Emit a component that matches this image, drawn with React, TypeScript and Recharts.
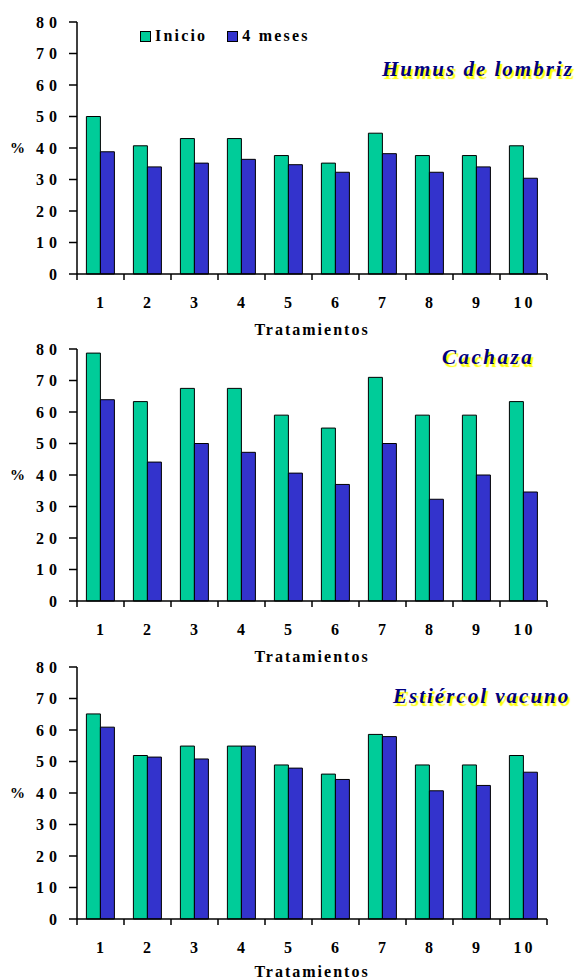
import { BarChart, Bar, XAxis, YAxis, Legend } from 'recharts';

const tratamientos = ['1', '2', '3', '4', '5', '6', '7', '8', '9', '10'];
const yTicks = [0, 10, 20, 30, 40, 50, 60, 70, 80];

// % al inicio y a los 4 meses, por sustrato
const humusInicio = [50, 40.7, 43, 43, 37.6, 35.2, 44.7, 37.6, 37.6, 40.7];
const humus4m = [38.8, 34, 35.2, 36.4, 34.7, 32.3, 38.2, 32.3, 34, 30.4];
const cachazaInicio = [78.7, 63.3, 67.5, 67.5, 59, 54.9, 71, 59, 59, 63.3];
const cachaza4m = [63.9, 44.1, 50, 47.2, 40.6, 37, 50, 32.3, 40, 34.6];
const estiercolInicio = [65.1, 51.9, 54.9, 54.9, 48.9, 46, 58.6, 48.9, 48.9, 51.9];
const estiercol4m = [60.9, 51.4, 50.8, 54.9, 47.9, 44.3, 57.9, 40.7, 42.4, 46.6];

const FONT = "'Liberation Serif', 'DejaVu Serif', 'Noto Serif', serif";
const VERDE = '#00CC99';
const AZUL = '#3333CC';

const toRows = (ini: number[], fin: number[]) =>
  tratamientos.map((t, i) => ({ t, inicio: ini[i], meses: fin[i] }));

// etiqueta de categoría + marcas en los límites de cada banda
function CatTick(props: any) {
  const { x, y, payload, index, visibleTicksCount } = props;
  const half = payload.offset ?? 23.5;
  const last = index === visibleTicksCount - 1;
  return (
    <g>
      <line x1={x - half} x2={x - half} y1={y} y2={y + 6} stroke="#000" strokeWidth={1.5} />
      {last && <line x1={x + half} x2={x + half} y1={y} y2={y + 6} stroke="#000" strokeWidth={1.5} />}
      <text
        x={x + 1}
        y={y + 34}
        textAnchor="middle"
        fontFamily={FONT}
        fontWeight={700}
        fontSize={16}
        letterSpacing={3}
        fill="#000"
      >
        {payload.value}
      </text>
    </g>
  );
}

const renderLegend = ({ payload }: any) => (
  <div style={{ display: 'flex', alignItems: 'center', fontFamily: FONT, fontWeight: 700, fontSize: 16, letterSpacing: 2.2 }}>
    {(payload || []).map((e: any) => (
      <span key={e.value} style={{ display: 'flex', alignItems: 'center', marginRight: 20 }}>
        <span style={{ width: 9, height: 9, background: e.color, border: '1px solid #000', marginRight: 4 }} />
        {e.value}
      </span>
    ))}
  </div>
);

type PanelProps = {
  top: number;
  ini: number[];
  fin: number[];
  titulo: string;
  tituloX: number;
  tituloY: number;
  tituloSp: number;
  labelOffset: number;
  leyenda?: boolean;
};

function Panel({ top, ini, fin, titulo, tituloX, tituloY, tituloSp, labelOffset, leyenda }: PanelProps) {
  return (
    <div style={{ position: 'absolute', left: 0, top, width: 580, height: 342 }}>
      <BarChart
        width={580}
        height={342}
        data={toRows(ini, fin)}
        margin={{ top: 22, right: 33, bottom: 6, left: 0 }}
        barCategoryGap="20%"
        barGap={0}
      >
        <XAxis
          dataKey="t"
          interval={0}
          height={62}
          tickSize={0}
          tickMargin={0}
          tickLine={false}
          axisLine={{ stroke: '#000', strokeWidth: 1.5 }}
          tick={<CatTick />}
          label={{
            value: 'Tratamientos',
            position: 'insideBottom',
            offset: labelOffset,
            fill: '#000',
            fontFamily: FONT,
            fontWeight: 700,
            fontSize: 16,
            letterSpacing: 2,
          }}
        />
        <YAxis
          width={77}
          domain={[0, 80]}
          ticks={yTicks}
          interval={0}
          tickSize={8}
          tickMargin={7}
          axisLine={{ stroke: '#000', strokeWidth: 1.5 }}
          tickLine={{ stroke: '#000', strokeWidth: 1.5 }}
          tick={{ fill: '#000', fontFamily: FONT, fontWeight: 700, fontSize: 16, letterSpacing: 5 }}
          label={{
            value: '%',
            position: 'insideLeft',
            offset: 10,
            fill: '#000',
            fontFamily: FONT,
            fontWeight: 700,
            fontSize: 15,
          }}
        />
        {leyenda && (
          <Legend
            layout="horizontal"
            verticalAlign="middle"
            align="center"
            itemSorter="dataKey"
            content={renderLegend}
            wrapperStyle={{ left: 140, top: 27, width: 260 }}
          />
        )}
        <Bar dataKey="inicio" name="Inicio" fill={VERDE} stroke="#000" strokeWidth={1} isAnimationActive={false} />
        <Bar dataKey="meses" name="4 meses" fill={AZUL} stroke="#000" strokeWidth={1} isAnimationActive={false} />
      </BarChart>
      <div
        style={{
          position: 'absolute',
          left: tituloX,
          top: tituloY - 11,
          fontFamily: FONT,
          fontStyle: 'italic',
          fontWeight: 700,
          fontSize: 21,
          lineHeight: '22px',
          letterSpacing: tituloSp,
          color: '#000080',
          textShadow: '2px 3px 1px #ffff00',
          whiteSpace: 'nowrap',
        }}
      >
        {titulo}
      </div>
    </div>
  );
}

export default function App() {
  return (
    <div style={{ position: 'absolute', left: 0, top: 0, width: 580, height: 980, overflow: 'hidden', background: '#fff' }}>
      <Panel top={0} ini={humusInicio} fin={humus4m} titulo="Humus de lombriz" tituloX={382} tituloY={69} tituloSp={2} labelOffset={1} leyenda />
      <Panel top={327} ini={cachazaInicio} fin={cachaza4m} titulo="Cachaza" tituloX={442} tituloY={30} tituloSp={2.5} labelOffset={1} />
      <Panel top={645} ini={estiercolInicio} fin={estiercol4m} titulo="Estiércol vacuno" tituloX={393} tituloY={51} tituloSp={2} labelOffset={4} />
    </div>
  );
}
